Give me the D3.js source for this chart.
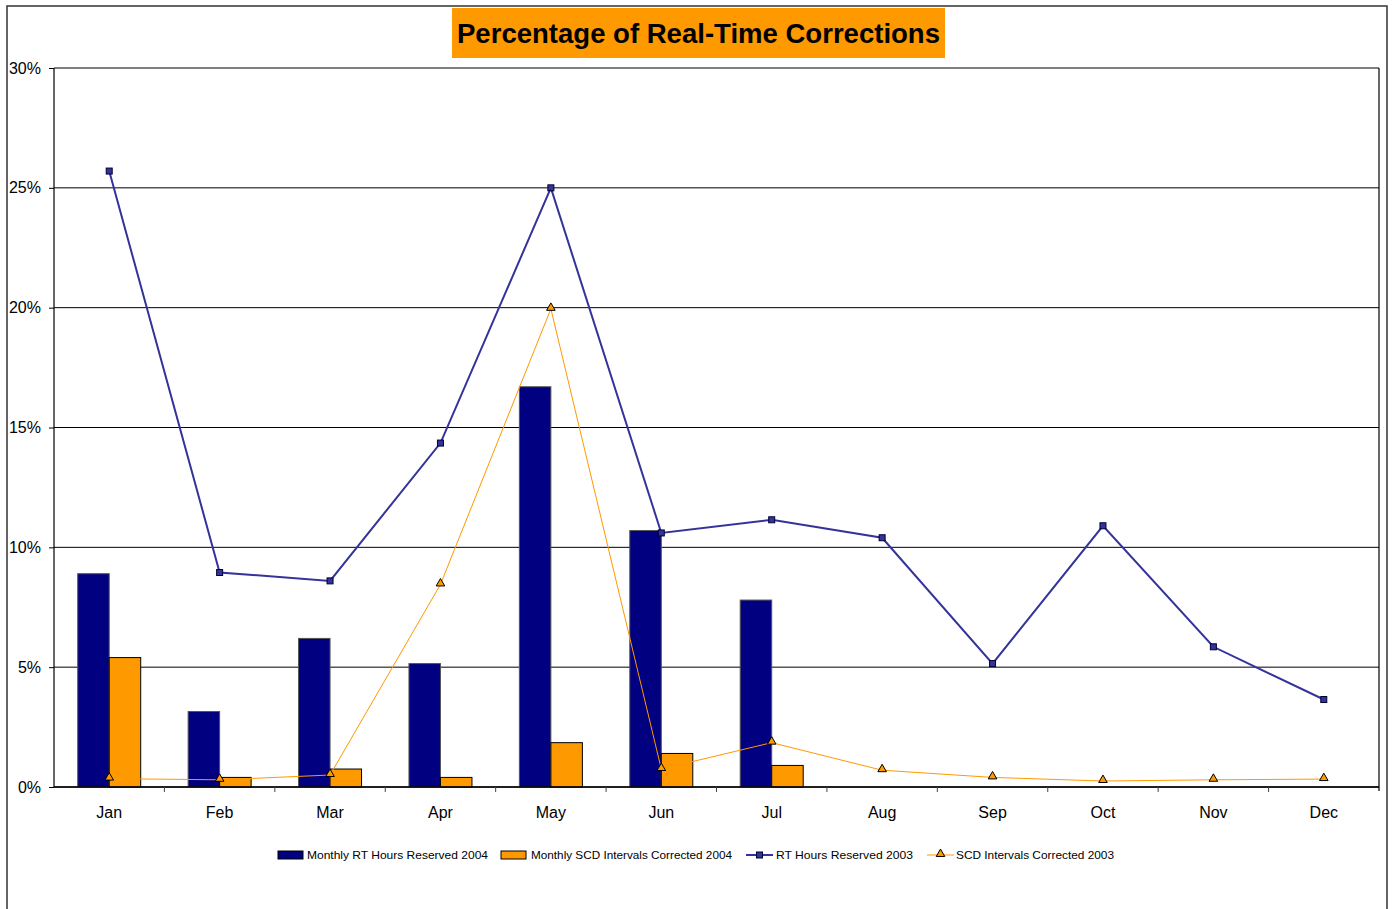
<!DOCTYPE html>
<html>
<head>
<meta charset="utf-8">
<script src="https://cdn.jsdelivr.net/npm/d3@7"></script>
<style>
body{margin:0;background:#fff;}
text{font-family:Arial,"Liberation Sans",sans-serif;}
</style>
</head>
<body>
<div id="chart"></div>
<script>
var months = ['Jan','Feb','Mar','Apr','May','Jun','Jul','Aug','Sep','Oct','Nov','Dec'];
var rtHours2004 = [8.9, 3.15, 6.2, 5.15, 16.7, 10.7, 7.8, null, null, null, null, null];
var scdIntervals2004 = [5.4, 0.4, 0.75, 0.4, 1.85, 1.4, 0.9, null, null, null, null, null];
var rtHours2003 = [25.7, 8.95, 8.6, 14.35, 25.0, 10.6, 11.15, 10.4, 5.15, 10.9, 5.85, 3.65];
var scdIntervals2003 = [0.35, 0.3, 0.5, 8.45, 19.95, 0.75, 1.85, 0.7, 0.4, 0.25, 0.3, 0.33];
var yTicks = [0, 5, 10, 15, 20, 25, 30];
var legendNames = ['Monthly RT Hours Reserved 2004','Monthly SCD Intervals Corrected 2004','RT Hours Reserved 2003','SCD Intervals Corrected 2003'];

var W = 1392, H = 909;
var pLeft = 54, pRight = 1379, pTop = 68, pBottom = 787;
var NAVY = '#000080', ORANGE = '#FF9900', BLUE = '#333399';

var svg = d3.select('#chart').append('svg')
  .attr('width', W)
  .attr('height', H);

// outer frame
svg.append('rect')
  .attr('x', 7).attr('y', 6)
  .attr('width', 1380).attr('height', 960)
  .style('fill', 'none').style('stroke', '#333').style('stroke-width', 1.5);

var x = d3.scaleBand().domain(months).range([pLeft, pRight]);
var y = d3.scaleLinear().domain([0, 30]).range([pBottom, pTop]);
var barW = 31.5;

// gridlines
svg.selectAll('line.grid').data(yTicks).enter().append('line')
  .attr('class', 'grid')
  .attr('x1', pLeft).attr('x2', pRight)
  .attr('y1', function(d){ return y(d); })
  .attr('y2', function(d){ return y(d); })
  .style('stroke', '#000').style('stroke-width', 1);

// bars 2004
svg.selectAll('rect.rt').data(rtHours2004).enter().filter(function(d){ return d != null; }).append('rect')
  .attr('class', 'rt')
  .attr('x', function(d, i){ return x(months[i]) + x.bandwidth()/2 - barW; })
  .attr('y', function(d){ return y(d); })
  .attr('width', barW)
  .attr('height', function(d){ return y(0) - y(d); })
  .style('fill', NAVY).style('stroke', '#555').style('stroke-width', 1);

svg.selectAll('rect.scd').data(scdIntervals2004).enter().filter(function(d){ return d != null; }).append('rect')
  .attr('class', 'scd')
  .attr('x', function(d, i){ return x(months[i]) + x.bandwidth()/2; })
  .attr('y', function(d){ return y(d); })
  .attr('width', barW)
  .attr('height', function(d){ return y(0) - y(d); })
  .style('fill', ORANGE).style('stroke', '#000').style('stroke-width', 1);

// axes frame
svg.append('line').attr('x1', pLeft).attr('x2', pLeft).attr('y1', pTop).attr('y2', pBottom)
  .style('stroke', '#000').style('stroke-width', 1.2);
svg.append('line').attr('x1', pRight).attr('x2', pRight).attr('y1', pTop).attr('y2', pBottom + 4)
  .style('stroke', '#000').style('stroke-width', 1.2);
svg.append('line').attr('x1', pLeft).attr('x2', pRight).attr('y1', pBottom).attr('y2', pBottom)
  .style('stroke', '#000').style('stroke-width', 1.5);

// y axis
var yAxis = d3.axisLeft(y).tickValues(yTicks).tickSize(5).tickPadding(8)
  .tickFormat(function(d){ return d + '%'; });
var gy = svg.append('g').attr('transform', 'translate(' + pLeft + ',0)').call(yAxis);
gy.select('.domain').remove();
gy.selectAll('text').style('font-size', '16px').style('fill', '#000')
  .style('font-family', 'Arial,"Liberation Sans",sans-serif');
gy.selectAll('line').style('stroke', '#000');

// x axis
var xAxis = d3.axisBottom(x).tickSize(0).tickPadding(20);
var gx = svg.append('g').attr('transform', 'translate(0,' + pBottom + ')').call(xAxis);
gx.select('.domain').remove();
gx.selectAll('text').style('font-size', '16px').style('fill', '#000')
  .style('font-family', 'Arial,"Liberation Sans",sans-serif');
svg.selectAll('line.xtick').data(months.slice(1)).enter().append('line')
  .attr('class', 'xtick')
  .attr('x1', function(d){ return x(d); }).attr('x2', function(d){ return x(d); })
  .attr('y1', pBottom).attr('y2', pBottom + 5)
  .style('stroke', '#444').style('stroke-width', 1);

// lines 2003
var cx = function(d, i){ return x(months[i]) + x.bandwidth()/2; };
var line = d3.line().x(cx).y(function(d){ return y(d); });

svg.append('path').datum(rtHours2003)
  .attr('d', line)
  .style('fill', 'none').style('stroke', BLUE).style('stroke-width', 2);
svg.append('path').datum(scdIntervals2003)
  .attr('d', line)
  .style('fill', 'none').style('stroke', ORANGE).style('stroke-width', 1);

svg.selectAll('rect.mk').data(rtHours2003).enter().append('rect')
  .attr('class', 'mk')
  .attr('x', function(d, i){ return cx(d, i) - 3; })
  .attr('y', function(d){ return y(d) - 3; })
  .attr('width', 6).attr('height', 6)
  .style('fill', BLUE).style('stroke', '#000033').style('stroke-width', 1);

var tri = d3.symbol().type(d3.symbolTriangle).size(32);
svg.selectAll('path.tri').data(scdIntervals2003).enter().append('path')
  .attr('class', 'tri')
  .attr('d', tri)
  .attr('transform', function(d, i){ return 'translate(' + cx(d, i) + ',' + (y(d) - 1) + ')'; })
  .style('fill', ORANGE).style('stroke', '#000').style('stroke-width', 1);

// title
svg.append('rect')
  .attr('x', 452).attr('y', 8)
  .attr('width', 493).attr('height', 50)
  .style('fill', ORANGE);
svg.append('text')
  .attr('x', 698.5).attr('y', 43)
  .attr('text-anchor', 'middle')
  .attr('textLength', 483).attr('lengthAdjust', 'spacingAndGlyphs')
  .style('font-size', '27px').style('font-weight', 'bold')
  .text('Percentage of Real-Time Corrections');

// legend
var lg = [
  {sx: 278, tx: 307, tw: 181, kind: 'bar', color: NAVY, stroke: '#000'},
  {sx: 501, tx: 531, tw: 201, kind: 'bar', color: ORANGE, stroke: '#000'},
  {sx: 746, tx: 776, tw: 137, kind: 'line', color: BLUE},
  {sx: 927, tx: 956, tw: 158, kind: 'tri', color: ORANGE}
];
var ly = 855;
lg.forEach(function(o, i){
  if(o.kind == 'bar'){
    svg.append('rect').attr('x', o.sx).attr('y', ly - 4).attr('width', 25).attr('height', 8)
      .style('fill', o.color).style('stroke', o.stroke).style('stroke-width', 1);
  } else {
    svg.append('line').attr('x1', o.sx).attr('x2', o.sx + 27).attr('y1', ly).attr('y2', ly)
      .style('stroke', o.color).style('stroke-width', o.kind == 'line' ? 2 : 1);
    if(o.kind == 'line'){
      svg.append('rect').attr('x', o.sx + 10.5).attr('y', ly - 3).attr('width', 6).attr('height', 6)
        .style('fill', BLUE).style('stroke', '#000033');
    } else {
      svg.append('path').attr('d', tri).attr('transform', 'translate(' + (o.sx + 13.5) + ',' + (ly - 1) + ')')
        .style('fill', ORANGE).style('stroke', '#000');
    }
  }
  svg.append('text').attr('x', o.tx).attr('y', ly + 4)
    .attr('textLength', o.tw).attr('lengthAdjust', 'spacingAndGlyphs')
    .style('font-size', '11.5px')
    .text(legendNames[i]);
});
</script>
</body>
</html>
